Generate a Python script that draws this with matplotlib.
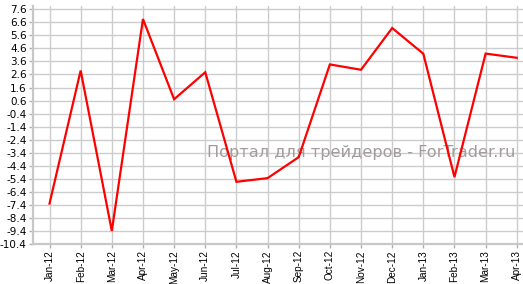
import matplotlib
matplotlib.use("Agg")
import matplotlib.pyplot as plt
import numpy as np

# данные с графика
months = ["Jan-12", "Feb-12", "Mar-12", "Apr-12", "May-12", "Jun-12", "Jul-12", "Aug-12",
          "Sep-12", "Oct-12", "Nov-12", "Dec-12", "Jan-13", "Feb-13", "Mar-13", "Apr-13"]
values = [-7.3, 2.9, -9.4, 6.85, 0.7, 2.77, -5.63, -5.35,
          -3.74, 3.37, 2.96, 6.16, 4.19, -5.27, 4.2, 3.88]
y_ticks = np.arange(-10.4, 7.61, 1.0)
watermark = "Портал для трейдеров - ForTrader.ru"

fig = plt.figure(figsize=(5.23, 2.84), dpi=100)
ax = fig.add_axes([33 / 523, 1 - 244 / 284, 1 - 33 / 523, 238 / 284])

x = np.arange(len(months))
ax.plot(x, values, color="#ff0000", lw=1.6, zorder=3, solid_joinstyle="miter")

ax.set_xlim(-0.53, 15.2)
ax.set_ylim(-10.4, 7.85)
ax.set_xticks(x)
ax.set_xticklabels(months, rotation=90, fontsize=7.2, family=["Liberation Sans", "DejaVu Sans"])
ax.set_yticks(y_ticks)
ax.set_yticklabels([f"{v:.1f}" for v in y_ticks], fontsize=7.5, family="DejaVu Sans")

ax.grid(True, color="#cccccc", lw=1.0, zorder=0)
ax.set_axisbelow(True)
for side in ["top", "right"]:
    ax.spines[side].set_visible(False)
for side in ["left", "bottom"]:
    ax.spines[side].set_color("#c8c8c8")
    ax.spines[side].set_linewidth(1.6)
ax.tick_params(axis="both", colors="#b0b0b0", length=3, width=1, labelcolor="black", pad=1.5)

# водяной знак (под линией)
ax.text(207 / 523, 1 - 157.5 / 284, watermark, transform=fig.transFigure, fontsize=11.6,
        color="#a39c9c", family="DejaVu Sans", ha="left", va="baseline", zorder=2)

fig.savefig("out.png", dpi=100)
